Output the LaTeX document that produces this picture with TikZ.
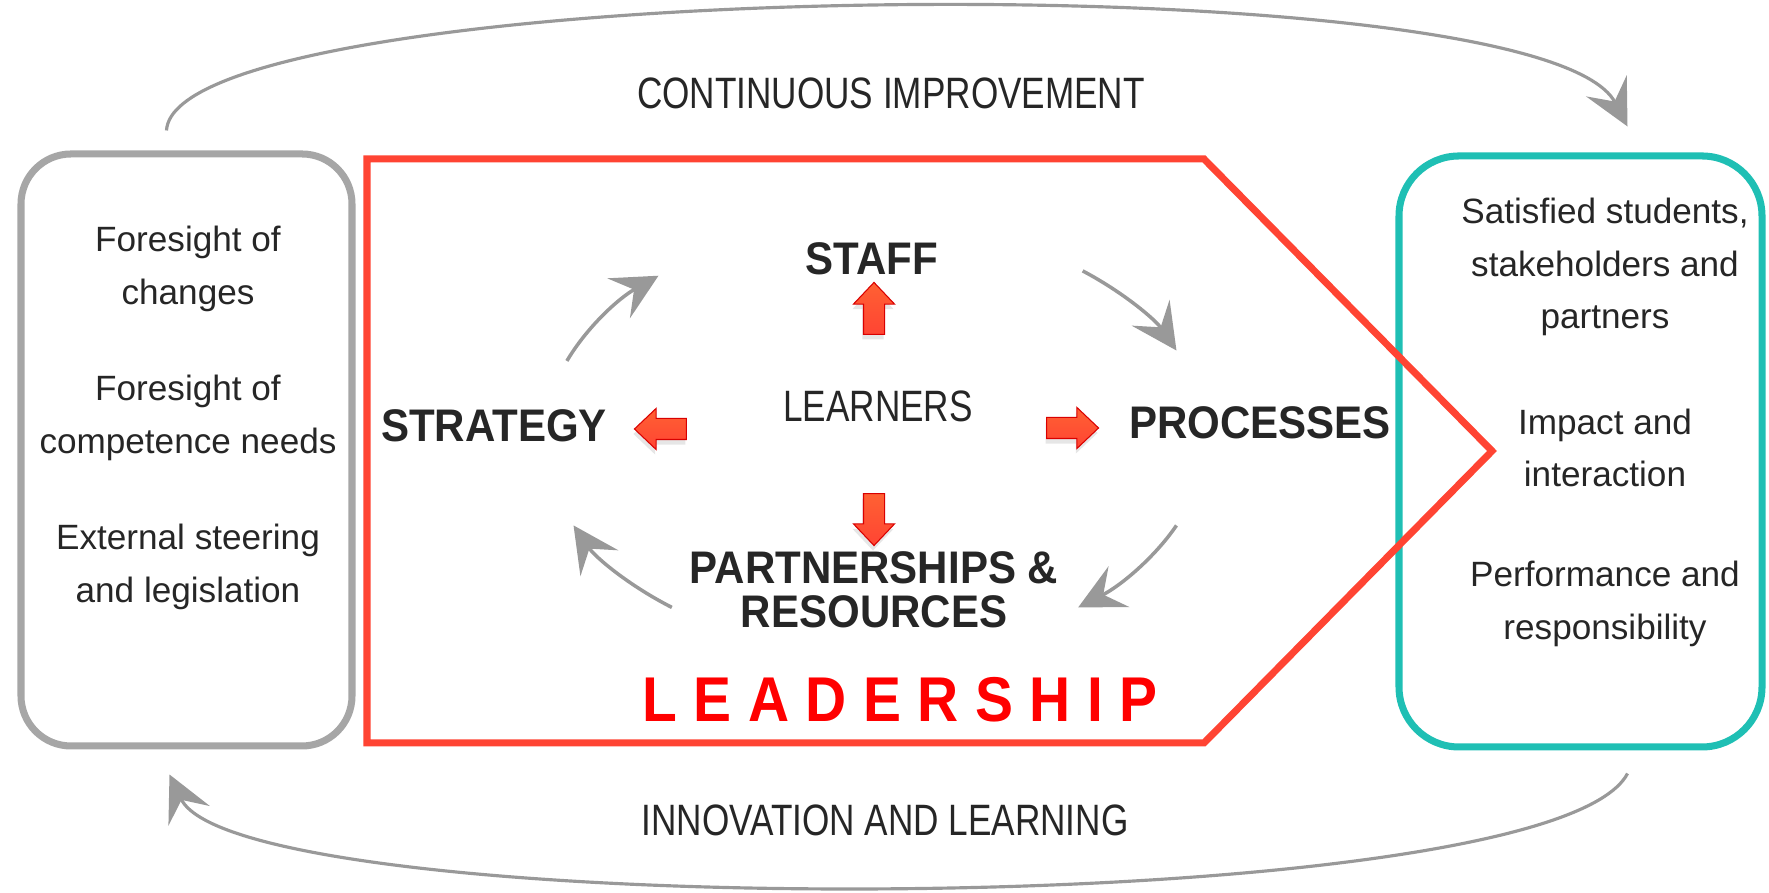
\documentclass[tikz,border=0pt]{standalone}
\usepackage{fontspec}
\setmainfont{Liberation Sans}
\newfontfamily\narrowfont[FakeStretch=0.8]{Liberation Sans}
\newfontfamily\labelfont[FakeStretch=0.92]{Liberation Sans}
\newfontfamily\spacedfont[LetterSpace=26,FakeStretch=0.9]{Liberation Sans}
\usetikzlibrary{arrows.meta,shapes.arrows,shadows}

\definecolor{framegrey}{HTML}{A6A6A6}
\definecolor{arcgrey}{HTML}{999999}
\definecolor{leadred}{HTML}{FF4433}
\definecolor{resultteal}{HTML}{1FBFB4}
\definecolor{textgrey}{HTML}{262626}

\tikzset{
  framebox/.style={draw, line width=2pt, inner sep=0pt},
  boxtext/.style={align=center, text=textgrey, font=\fontsize{10}{15}\selectfont},
  looptext/.style={text=textgrey, font=\narrowfont\fontsize{12.5}{14}\selectfont},
  part/.style={align=center, text=textgrey, font=\labelfont\bfseries\fontsize{13}{12.5}\selectfont},
  bigarc/.style={draw=arcgrey, line width=0.9pt, -{Stealth[length=13pt,width=13pt,inset=5pt]}},
  cycarc/.style={draw=arcgrey, line width=1pt, -{Stealth[length=13pt,width=13pt,inset=5pt]}},
  learnerarrow/.style={single arrow, draw=red!85!black, line width=0.3pt, top color=red!55!orange!80, bottom color=leadred,
    inner sep=0.1cm, minimum height=0.52cm, single arrow head extend=0.1cm,
    single arrow tip angle=87,
    drop shadow={shadow xshift=-0.01cm, shadow yshift=-0.05cm, opacity=0.2}}
}

\begin{document}
\begin{tikzpicture}
  \useasboundingbox (0cm,0cm) rectangle (17.69cm,8.93cm);

  % outer frames
  \node[framebox, draw=framegrey, rounded corners=0.5cm, minimum width=3.31cm, minimum height=5.92cm] (lbox) at (1.865cm,4.43cm) {};
  \node[framebox, draw=resultteal, rounded corners=0.6cm, minimum width=3.63cm, minimum height=5.91cm] (rbox) at (15.805cm,4.415cm) {};
  \draw[leadred, line width=2pt] (3.67cm,7.34cm) -- (12.04cm,7.34cm) -- (14.92cm,4.42cm) -- (12.04cm,1.5cm) -- (3.67cm,1.5cm) -- cycle;

  % left column
  \node[boxtext] (changes) at (1.88cm,6.24cm) {Foresight of\\changes};
  \node[boxtext] (competence) at (1.88cm,4.75cm) {Foresight of\\competence needs};
  \node[boxtext] (steering) at (1.88cm,3.26cm) {External steering\\and legislation};

  % right column
  \node[boxtext] (satisfied) at (16.05cm,6.26cm) {Satisfied students,\\stakeholders and\\partners};
  \node[boxtext] (impact) at (16.05cm,4.45cm) {Impact and\\interaction};
  \node[boxtext] (performance) at (16.05cm,2.89cm) {Performance and\\responsibility};

  % the big loop
  \node[looptext] (improvement) at (8.91cm,8cm) {CONTINUOUS IMPROVEMENT};
  \node[looptext] (innovation) at (8.85cm,0.73cm) {INNOVATION AND LEARNING};
  \draw[bigarc] ([shift={(-0.2cm,0.2cm)}]lbox.north) .. controls (1.75cm,9.15cm) and (15.4cm,9.35cm) .. ([shift={(0.47cm,0.26cm)}]rbox.north);
  \draw[bigarc] ([shift={(0.47cm,-0.23cm)}]rbox.south) .. controls (15.5cm,-0.3cm) and (2.4cm,-0.3cm) .. ([shift={(-0.17cm,-0.25cm)}]lbox.south);

  % inner cycle
  \node[looptext] (learners) at (8.78cm,4.87cm) {LEARNERS};
  \node[part] (staff) at (8.72cm,6.34cm) {STAFF};
  \node[part] (strategy) at (4.94cm,4.67cm) {STRATEGY};
  \node[part] (processes) at (12.6cm,4.7cm) {PROCESSES};
  \node[part] (partners) at (8.74cm,3.03cm) {PARTNERSHIPS \&\\RESOURCES};
  \node[text=red, font=\spacedfont\bfseries\fontsize{18}{18}\selectfont] (leadership) at (9.0cm,1.93cm) {LEADERSHIP};

  \node[learnerarrow, shape border rotate=90] (a-staff) at (8.74cm,5.79cm) {};
  \node[learnerarrow, shape border rotate=180] (a-strategy) at (6.66cm,4.64cm) {};
  \node[learnerarrow] (a-processes) at (10.67cm,4.65cm) {};
  \node[learnerarrow, shape border rotate=270] (a-partners) at (8.74cm,3.79cm) {};

  \coordinate (hub) at (8.75cm,4.55cm);
  \draw[cycarc] (hub) ++(159:3.3cm and 2.15cm) arc[start angle=159, end angle=131, x radius=3.3cm, y radius=2.15cm];
  \draw[cycarc] (hub) ++(51:3.3cm and 2.15cm) arc[start angle=51, end angle=24, x radius=3.3cm, y radius=2.15cm];
  \draw[cycarc] (hub) ++(-24:3.3cm and 2.15cm) arc[start angle=-24, end angle=-52, x radius=3.3cm, y radius=2.15cm];
  \draw[cycarc] (hub) ++(232:3.3cm and 2.15cm) arc[start angle=232, end angle=204, x radius=3.3cm, y radius=2.15cm];
\end{tikzpicture}
\end{document}
